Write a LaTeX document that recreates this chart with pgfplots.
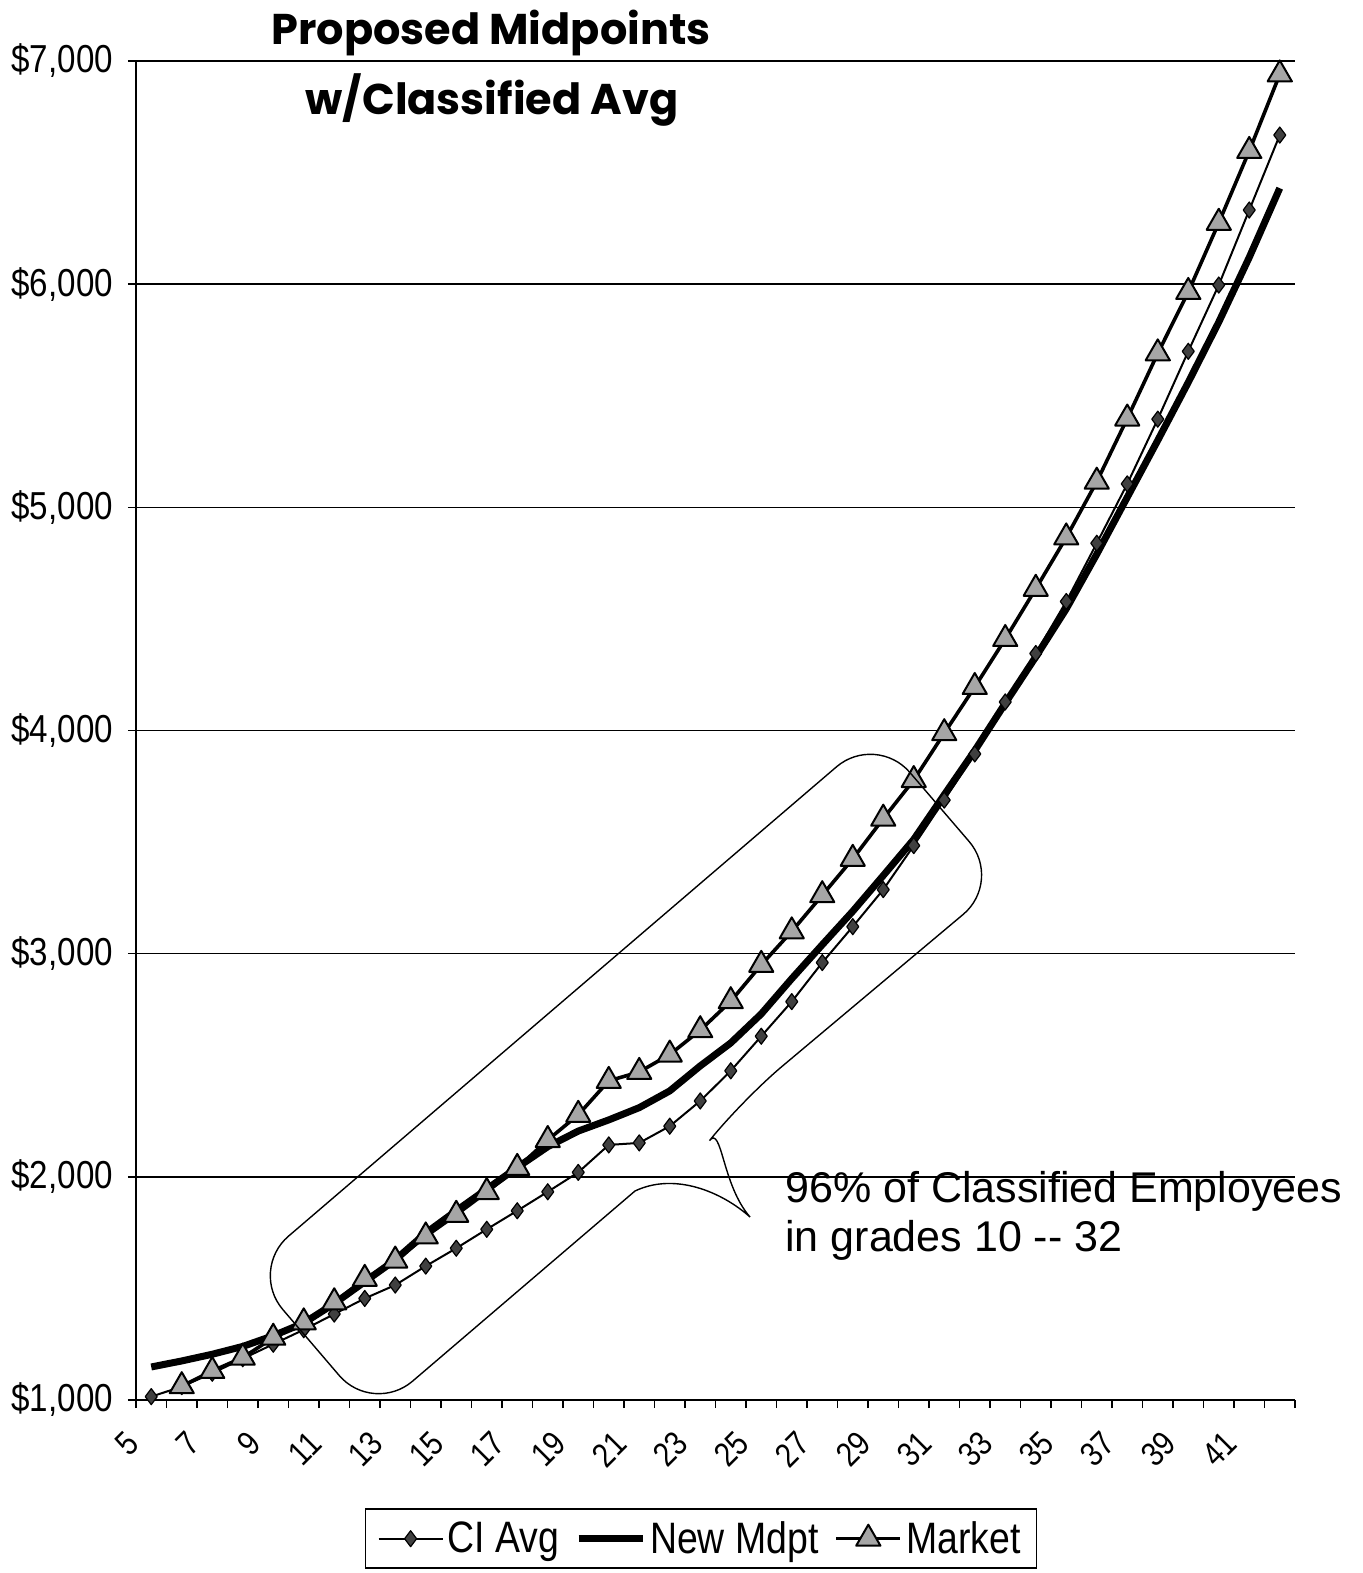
\documentclass[border=0pt]{standalone}
\usepackage{fontspec}
\setmainfont{Liberation Sans}
\newfontfamily\narrowfont[FakeStretch=0.85]{Liberation Sans}
\newfontfamily\titlefont{Poppins}
\usepackage{pgfplots}
\usepackage{pgfplotstable}
\pgfplotsset{compat=1.18}

% Monthly salary by grade
\pgfplotstableread{
grade ci   mdpt market
5     1015 1148 nan
6     1060 1175 1062
7     1120 1205 1130
8     1185 1240 1190
9     1250 1288 1279
10    1315 1345 1348
11    1385 1432 1438
12    1455 1530 1543
13    1515 1628 1625
14    1600 1748 1733
15    1680 1848 1830
16    1765 1945 1932
17    1848 2042 2040
18    1933 2135 2165
19    2020 2205 2278
20    2143 2255 2430
21    2152 2310 2470
22    2227 2385 2548
23    2340 2497 2657
24    2475 2600 2787
25    2630 2730 2950
26    2785 2888 3100
27    2960 3040 3262
28    3121 3190 3425
29    3287 3350 3605
30    3484 3512 3778
31    3688 3712 3988
32    3895 3910 4195
33    4128 4122 4410
34    4345 4330 4635
35    4578 4545 4865
36    4839 4790 5115
37    5105 5045 5398
38    5395 5300 5690
39    5699 5560 5965
40    5996 5830 6275
41    6332 6120 6597
42    6668 6430 6940
}\grades

\tikzset{
  cistyle/.style={black, line width=1pt, line join=round, mark=diamond*, mark size=4pt,
    mark options={fill=black!75, draw=black, line width=0.6pt, solid}},
  mdptstyle/.style={black, line width=3.5pt, line join=round, no markers},
  mktstyle/.style={black, line width=1.8pt, line join=round, mark=triangle*, mark size=7pt,
    mark options={fill=black!35, draw=black, line width=1pt, solid}},
}

\begin{document}
\begin{tikzpicture}
\begin{axis}[
  name=ax,
  scale only axis, width=579.5pt, height=669.5pt,
  xmin=4.5, xmax=42.5, ymin=1000, ymax=7000,
  clip=false,
  axis x line*=bottom, axis y line*=left,
  axis line style={line width=1pt},
  tick align=outside,
  major tick length=4pt, minor tick length=4pt,
  xtick={5,7,...,41},
  xticklabels={5,7,9,11,13,15,17,19,21,23,25,27,29,31,33,35,37,39,41},
  minor xtick={4.5,5.5,...,42.5},
  major x tick style={draw=none},
  minor x tick style={black, line width=0.8pt},
  ytick={1000,2000,...,7000},
  yticklabels={{\$1,000},{\$2,000},{\$3,000},{\$4,000},{\$5,000},{\$6,000},{\$7,000}},
  major y tick style={black, line width=0.8pt},
  ymajorgrids,
  grid style={black, line width=0.7pt},
  yticklabel style={font=\narrowfont\fontsize{19.5}{20}\selectfont, xshift=-4pt},
  xticklabel style={font=\narrowfont\fontsize{17}{17}\selectfont, rotate=45, anchor=east,
    inner sep=0pt, xshift=-17pt, yshift=-4pt},
  legend columns=-1,
  legend style={at={(axis description cs:0.4875,-0.081)}, anchor=north,
    draw=black, line width=0.8pt, font=\narrowfont\fontsize{22}{22}\selectfont,
    inner xsep=6pt, inner ysep=4pt,
    /tikz/every even column/.append style={column sep=6pt}},
  legend image code/.code={\draw[mark repeat=2, mark phase=2, #1]
    plot coordinates {(0pt,0pt) (16pt,0pt) (32pt,0pt)};},
]
\addlegendimage{cistyle}
\addlegendentry{CI Avg}
\addlegendimage{mdptstyle}
\addlegendentry{New Mdpt}
\addlegendimage{mktstyle}
\addlegendentry{Market}

\addplot[mdptstyle, forget plot] table[x=grade, y=mdpt]{\grades};
\addplot[cistyle, forget plot] table[x=grade, y=ci]{\grades};
\addplot[mktstyle, forget plot] table[x=grade, y=market]{\grades};
\end{axis}

% pixel frame: origin at the top left corner of the page
\coordinate (O) at ([xshift=-68pt, yshift=700pt]ax.south west);
\begin{scope}[shift={(O)}, x=0.5pt, y=-0.5pt]
  % callout around grades 10-32
  \draw[black, line width=0.7pt]
    (635,1191) [rounded corners=26pt] -- (373,1415) -- (249,1270) -- (876,733) -- (1003,881) -- (742,1100)
    [sharp corners] .. controls (722,1125) and (722,1185) .. (750,1217)
    .. controls (722,1192) and (675,1172) .. (635,1191) -- cycle;
  \node[anchor=base west, inner sep=0, font=\fontsize{21.5}{22}\selectfont] at (785,1203) {96\% of Classified Employees};
  \node[anchor=base west, inner sep=0, font=\fontsize{21.5}{22}\selectfont] at (785,1252) {in grades 10 -{}- 32};
  % title
  \node[anchor=base, inner sep=0, font=\titlefont\bfseries\fontsize{21.5}{22}\selectfont] at (491,45) {Proposed Midpoints};
  \node[anchor=base, inner sep=0, font=\titlefont\bfseries\fontsize{21.5}{22}\selectfont] at (492,115) {w/Classified Avg};
\end{scope}

\pgfresetboundingbox
\path[use as bounding box] (O) rectangle ++(681pt,-786.5pt);
\end{tikzpicture}
\end{document}
